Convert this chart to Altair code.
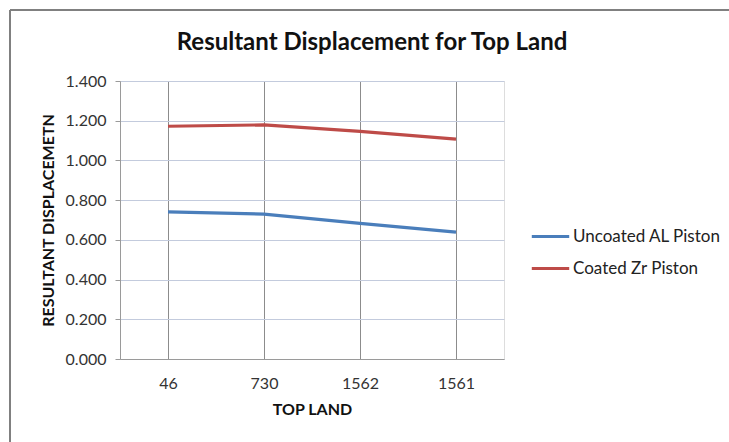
import altair as alt
import pandas as pd

# Top-land positions (categorical) and resultant displacement per piston type
top_land = ["46", "730", "1562", "1561"]
uncoated_al = [0.741, 0.730, 0.683, 0.639]
coated_zr = [1.172, 1.179, 1.146, 1.107]
series_names = ["Uncoated AL Piston", "Coated Zr Piston"]
series_colors = ["#4a7ebb", "#be4b48"]
y_ticks = [0.0, 0.2, 0.4, 0.6, 0.8, 1.0, 1.2, 1.4]
chart_title = "Resultant Displacement for Top Land"

rows = []
for name, vals in zip(series_names, [uncoated_al, coated_zr]):
    for cat, v in zip(top_land, vals):
        rows.append({"top_land": cat, "value": v, "series": name})
df = pd.DataFrame(rows)

FONT = "Lato"

x_enc = alt.X(
    "top_land:N",
    sort=top_land,
    scale=alt.Scale(paddingInner=0, paddingOuter=0),
    axis=alt.Axis(
        title="TOP LAND",
        labelAngle=0,
        ticks=False,
        grid=True,
        bandPosition=0,
        gridColor="#8c8c8c",
        gridWidth=1,
        domainColor="#9a9a9a",
        labelFontSize=16,
        labelColor="#333333",
        labelFont=FONT,
        labelPadding=16,
        titleFont=FONT,
        titleFontSize=16,
        titleFontWeight="bold",
        titleColor="#111111",
        titlePadding=10,
    ),
)

y_enc = alt.Y(
    "value:Q",
    scale=alt.Scale(domain=[0, 1.4], nice=False, zero=True),
    axis=alt.Axis(
        title="RESULTANT DISPLACEMETN",
        values=y_ticks,
        format=".3f",
        grid=True,
        gridColor="#c3cbdd",
        gridWidth=1,
        domainColor="#9a9a9a",
        tickColor="#9a9a9a",
        tickSize=5,
        labelFontSize=16,
        labelColor="#333333",
        labelFont=FONT,
        labelPadding=9,
        titleFont=FONT,
        titleFontSize=16,
        titleFontWeight="bold",
        titleColor="#111111",
        titlePadding=9,
    ),
)

lines = alt.Chart(df).mark_line(strokeWidth=3.2).encode(
    x=x_enc,
    y=y_enc,
    color=alt.Color(
        "series:N",
        sort=series_names,
        scale=alt.Scale(domain=series_names, range=series_colors),
        legend=alt.Legend(
            title=None,
            orient="none",
            legendX=410,
            legendY=135,
            symbolType="stroke",
            symbolSize=1400,
            symbolStrokeWidth=3,
            labelFont=FONT,
            labelFontSize=17,
            labelColor="#222222",
            labelOffset=2,
            rowPadding=3,
        ),
    ),
)

# Chart heading drawn as a text mark so it sits independently of the frame
heading = alt.Chart(pd.DataFrame({"t": [chart_title]})).mark_text(
    font=FONT, fontSize=24, fontWeight="bold", color="#111111",
    align="center", baseline="middle",
).encode(text="t:N", x=alt.value(252), y=alt.value(-38))

# Outer chart frame (left and top edges)
frame_left = alt.Chart(df).mark_rule(color="#808080", strokeWidth=1.5).encode(
    x=alt.value(-110), y=alt.value(-71), y2=alt.value(370)
)
frame_top = alt.Chart(df).mark_rule(color="#808080", strokeWidth=1.5).encode(
    x=alt.value(-110), x2=alt.value(620), y=alt.value(-71)
)

chart = (
    alt.layer(frame_left, frame_top, heading, lines)
    .properties(
        width=384,
        height=278,
        autosize=alt.AutoSizeParams(type="none"),
        padding={"left": 120, "top": 81, "right": 225, "bottom": 83},
    )
    .configure_view(stroke="#9a9a9a", strokeWidth=1)
    .configure(background="white")
)

chart.save("out.html", embed_options={"renderer": "svg", "actions": False})
